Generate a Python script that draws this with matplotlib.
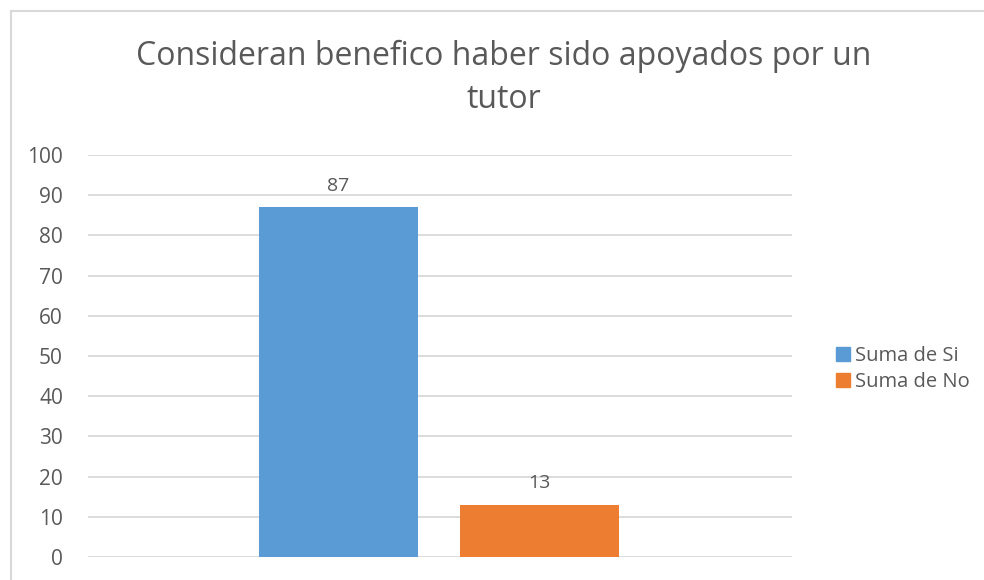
import matplotlib.pyplot as plt
from matplotlib.lines import Line2D
from matplotlib.patches import Patch

# Datos de la encuesta
SERIES = ['Suma de Si', 'Suma de No']
VALORES = [87, 13]
COLORES = ['#5B9BD5', '#ED7D31']
TITULO = 'Consideran benefico haber sido apoyados por un\ntutor'

GRIS_TEXTO = '#595959'
GRIS_LINEA = '#D9D9D9'

plt.rcParams['font.family'] = ['Open Sans', 'DejaVu Sans']

W, H = 984, 580
fig = plt.figure(figsize=(W / 100, H / 100), dpi=100)

# Area de trazado (en pixeles)
x0, x1, y_top, y_bot = 88, 792, 155, 557
ax = fig.add_axes([x0 / W, 1 - y_bot / H, (x1 - x0) / W, (y_bot - y_top) / H])

posiciones = [0, 1]
ancho = 0.79
barras = ax.bar(posiciones, VALORES, width=ancho, color=COLORES, zorder=3)
for b, v in zip(barras, VALORES):
    ax.annotate(str(v), (b.get_x() + b.get_width() / 2, v),
                xytext=(0, 9), textcoords='offset points',
                ha='center', va='bottom', fontsize=14, color=GRIS_TEXTO)

ax.set_xlim(-1.246, 2.256)
ax.set_ylim(0, 100)
ax.set_yticks(range(0, 101, 10))
ax.set_xticks([])
ax.yaxis.grid(True, color=GRIS_LINEA, linewidth=1.3, zorder=0)
for s in ax.spines.values():
    s.set_visible(False)
ax.tick_params(axis='y', length=0, pad=18, labelsize=15, labelcolor=GRIS_TEXTO)

fig.text(504 / W, 1 - 78 / H, TITULO, ha='center', va='center',
         fontsize=23, color=GRIS_TEXTO, linespacing=1.4)

handles = [Patch(color=c) for c in COLORES]
fig.legend(handles, SERIES, loc='center left', bbox_to_anchor=(818 / W, 1 - 369 / H),
           frameon=False, fontsize=14.5, labelcolor=GRIS_TEXTO,
           handlelength=0.7, handleheight=0.7, handletextpad=0.25,
           labelspacing=0.3)

# Borde del grafico
fig.add_artist(Line2D([10.5 / W, 10.5 / W], [0, 1 - 10.5 / H], color=GRIS_LINEA, linewidth=1.5))
fig.add_artist(Line2D([10.5 / W, 1], [1 - 10.5 / H, 1 - 10.5 / H], color=GRIS_LINEA, linewidth=1.5))

fig.savefig('out.png', dpi=100)
